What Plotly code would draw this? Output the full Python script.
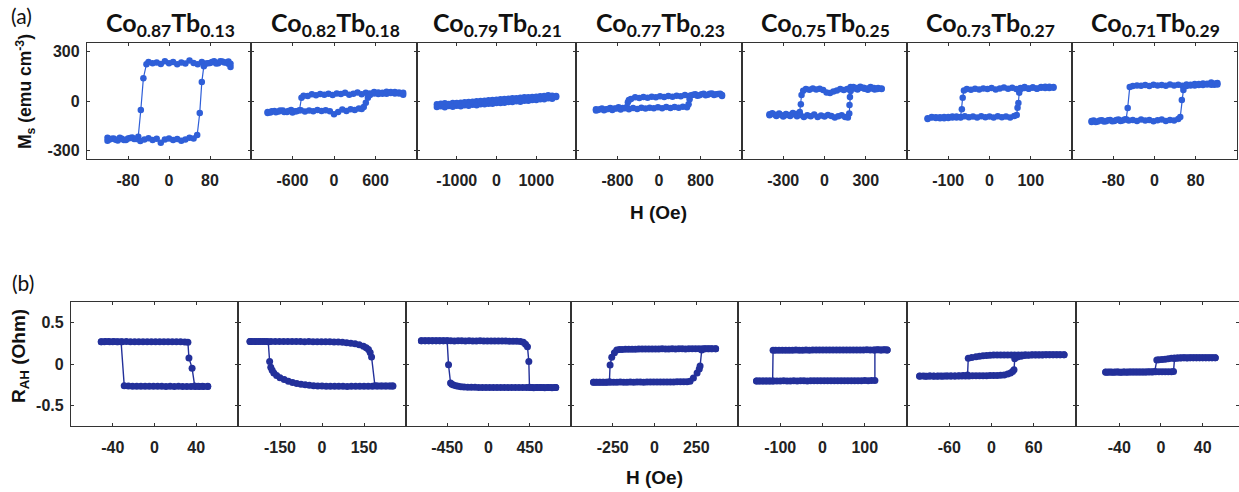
import plotly.graph_objects as go

# ---------------- data ----------------
titles = ["Co<sub>0.87</sub>Tb<sub>0.13</sub>", "Co<sub>0.82</sub>Tb<sub>0.18</sub>",
          "Co<sub>0.79</sub>Tb<sub>0.21</sub>", "Co<sub>0.77</sub>Tb<sub>0.23</sub>",
          "Co<sub>0.75</sub>Tb<sub>0.25</sub>", "Co<sub>0.73</sub>Tb<sub>0.27</sub>",
          "Co<sub>0.71</sub>Tb<sub>0.29</sub>"]
top_ticks = [80, 600, 1000, 800, 300, 100, 80]      # H (Oe) tick for (a) panels
bot_ticks = [40, 150, 450, 250, 100, 60, 40]        # H (Oe) tick for (b) panels
ms_ticks = [-300, 0, 300]
rah_ticks = [-0.5, 0, 0.5]

# (a) Ms loops: (H [Oe], Ms [emu/cm3]); sweep down then sweep up
a1_down = [(120,205),(116,225),(112,232),(104,238),(96,228),(88,240),(80,230),(72,226),(64,236),(56,222),(48,230),(40,244),(32,226),(24,232),(16,222),(8,236),(0,228),(-8,240),(-16,224),(-24,232),(-32,228),(-40,235),(-44,222),(-50,138),(-55,-54),(-60,-215),(-68,-230),(-76,-224),(-84,-236),(-92,-228),(-100,-238),(-108,-226),(-116,-232),(-120,-222)]
a1_up = [(-120,-240),(-112,-228),(-104,-234),(-96,-222),(-88,-236),(-80,-226),(-72,-220),(-64,-230),(-56,-242),(-48,-232),(-40,-225),(-32,-236),(-24,-228),(-16,-252),(-8,-232),(0,-226),(8,-236),(16,-230),(24,-240),(32,-232),(40,-222),(48,-226),(55,-205),(60,-72),(64,114),(68,210),(76,228),(84,236),(92,226),(100,240),(108,232),(116,238),(120,225)]

a2_down = [(1000,38),(940,52),(880,46),(820,55),(760,44),(700,50),(640,42),(580,55),(520,46),(460,50),(400,40),(340,52),(280,44),(220,38),(160,50),(100,42),(40,46),(-20,36),(-80,44),(-140,38),(-200,42),(-260,34),(-320,40),(-380,30),(-440,32),(-470,20),(-500,-56),(-560,-62),(-620,-54),(-680,-66),(-740,-58),(-800,-64),(-860,-60),(-920,-70),(-960,-66)]
a2_up = [(-960,-72),(-900,-62),(-840,-68),(-780,-58),(-720,-66),(-660,-60),(-600,-70),(-540,-62),(-480,-56),(-420,-64),(-360,-58),(-300,-62),(-240,-54),(-180,-60),(-120,-56),(-60,-62),(0,-80),(60,-66),(120,-52),(180,-60),(240,-50),(300,-54),(360,-46),(400,-48),(430,-36),(460,-10),(490,20),(520,36),(580,46),(640,52),(700,44),(760,56),(820,48),(880,54),(940,46),(1000,50)]

a3_down = [(1500,30),(1400,14),(1300,34),(1200,10),(1100,28),(1000,6),(900,24),(800,2),(700,22),(600,-4),(500,16),(400,-6),(300,14),(200,-10),(100,10),(0,-12),(-100,6),(-200,-16),(-300,2),(-400,-20),(-500,-2),(-600,-22),(-700,-6),(-800,-26),(-900,-10),(-1000,-28),(-1100,-12),(-1200,-30),(-1300,-14),(-1400,-32),(-1500,-20)]
a3_up = [(-1500,-36),(-1400,-16),(-1300,-38),(-1200,-18),(-1100,-34),(-1000,-12),(-900,-32),(-800,-8),(-700,-28),(-600,-4),(-500,-26),(-400,0),(-300,-20),(-200,4),(-100,-16),(0,8),(100,-12),(200,12),(300,-6),(400,16),(500,-2),(600,20),(700,2),(800,22),(900,6),(1000,26),(1100,10),(1200,30),(1300,16),(1400,32),(1500,24)]

a4_down = [(1215,30),(1140,42),(1060,36),(980,44),(900,34),(820,40),(740,32),(660,38),(580,30),(500,36),(420,28),(340,32),(260,26),(180,30),(100,24),(20,28),(-60,22),(-140,26),(-220,20),(-300,24),(-380,18),(-460,22),(-540,12),(-580,6),(-600,-8),(-620,-36),(-700,-42),(-780,-38),(-860,-46),(-940,-42),(-1020,-50),(-1100,-46),(-1180,-54),(-1215,-50)]
a4_up = [(-1215,-58),(-1140,-50),(-1060,-56),(-980,-48),(-900,-54),(-820,-46),(-740,-52),(-660,-44),(-580,-50),(-500,-42),(-420,-48),(-340,-40),(-260,-46),(-180,-40),(-100,-44),(-20,-38),(60,-44),(140,-36),(220,-42),(300,-36),(380,-40),(460,-34),(540,-38),(570,-20),(590,10),(620,34),(700,40),(780,34),(860,44),(940,38),(1020,46),(1100,40),(1180,44),(1215,36)]

a5_down = [(415,72),(390,78),(365,70),(340,76),(315,68),(290,74),(265,80),(240,70),(215,76),(190,84),(165,72),(140,66),(115,72),(90,64),(65,58),(40,48),(15,52),(-10,66),(-35,74),(-60,70),(-85,76),(-110,68),(-135,72),(-155,62),(-167,36),(-172,-20),(-180,-66),(-205,-78),(-230,-72),(-255,-84),(-280,-78),(-305,-88),(-330,-76),(-355,-84),(-380,-74),(-400,-80)]
a5_up = [(-400,-86),(-375,-78),(-350,-90),(-325,-82),(-300,-94),(-275,-84),(-250,-90),(-225,-80),(-200,-92),(-175,-84),(-150,-96),(-125,-86),(-100,-92),(-75,-82),(-50,-96),(-25,-88),(0,-94),(25,-84),(50,-90),(75,-100),(100,-92),(125,-86),(150,-96),(170,-100),(180,-76),(182,-24),(185,24),(190,60),(210,84),(235,78),(260,86),(285,80),(310,76),(335,84),(360,78),(385,72),(415,76)]

a6_down = [(155,84),(145,78),(135,86),(125,80),(115,74),(105,82),(95,76),(85,84),(75,78),(65,72),(55,80),(45,74),(35,82),(25,76),(15,70),(5,78),(-5,72),(-15,76),(-25,70),(-35,74),(-45,68),(-55,72),(-62,64),(-65,20),(-67,-50),(-70,-96),(-80,-100),(-90,-94),(-100,-102),(-110,-96),(-120,-104),(-130,-98),(-140,-100),(-150,-108)]
a6_up = [(-150,-104),(-140,-96),(-130,-102),(-120,-98),(-110,-104),(-100,-96),(-90,-100),(-80,-94),(-70,-100),(-60,-92),(-50,-98),(-40,-94),(-30,-100),(-20,-92),(-10,-98),(0,-94),(10,-100),(20,-92),(30,-98),(40,-94),(50,-100),(60,-90),(66,-84),(68,-40),(70,-12),(72,50),(76,72),(85,78),(95,74),(105,82),(115,76),(125,84),(135,78),(145,86),(155,80)]

a7_down = [(122,108),(116,98),(110,112),(102,100),(94,106),(86,96),(78,102),(70,94),(62,100),(54,92),(46,98),(38,94),(30,100),(22,92),(14,96),(6,94),(-2,98),(-10,90),(-18,96),(-26,92),(-34,94),(-42,90),(-48,84),(-52,-42),(-55,-110),(-62,-118),(-70,-112),(-78,-120),(-86,-114),(-94,-122),(-102,-116),(-110,-124),(-118,-118),(-122,-126)]
a7_up = [(-122,-120),(-114,-126),(-106,-118),(-98,-124),(-90,-116),(-82,-122),(-74,-114),(-66,-120),(-58,-112),(-50,-118),(-42,-114),(-34,-120),(-26,-112),(-18,-118),(-10,-114),(-2,-122),(6,-116),(14,-112),(22,-120),(30,-114),(38,-118),(46,-108),(50,-96),(53,6),(56,66),(62,90),(70,98),(78,94),(86,102),(94,96),(102,104),(110,98),(118,106),(122,100)]

# (b) anomalous Hall loops: (H [Oe], R_AH [Ohm]); sweep down then sweep up
b1_down = [(51,-0.272),(47,-0.271),(43,-0.272),(39,-0.271),(35,-0.272),(31,-0.271),(27,-0.271),(23,-0.270),(19,-0.271),(15,-0.270),(11,-0.271),(7,-0.270),(3,-0.270),(-1,-0.270),(-5,-0.269),(-9,-0.270),(-13,-0.269),(-17,-0.268),(-21,-0.268),(-25,-0.267),(-29,-0.262),(-32,0.268),(-36,0.270),(-40,0.270),(-44,0.271),(-48,0.270),(-51,0.270)]
b1_up = [(-51,0.270),(-47,0.271),(-43,0.270),(-39,0.271),(-35,0.270),(-31,0.270),(-27,0.271),(-23,0.270),(-19,0.270),(-15,0.269),(-11,0.270),(-7,0.270),(-3,0.269),(1,0.270),(5,0.269),(9,0.270),(13,0.269),(17,0.269),(21,0.268),(25,0.268),(29,0.267),(32,0.262),(33,0.073),(36,-0.050),(38.5,-0.265),(42,-0.268),(46,-0.270),(51,-0.270)]

b2_down = [(253,-0.265),(240,-0.266),(225,-0.267),(210,-0.266),(195,-0.267),(180,-0.268),(165,-0.268),(150,-0.269),(135,-0.270),(120,-0.270),(105,-0.270),(90,-0.271),(75,-0.270),(60,-0.270),(45,-0.270),(30,-0.269),(15,-0.268),(0,-0.267),(-15,-0.265),(-30,-0.262),(-45,-0.258),(-60,-0.252),(-75,-0.245),(-90,-0.236),(-105,-0.224),(-120,-0.208),(-135,-0.188),(-150,-0.165),(-162,-0.140),(-172,-0.110),(-178,-0.075),(-183,-0.040),(-187,0.030),(-192,0.270),(-205,0.272),(-220,0.271),(-235,0.272),(-250,0.271),(-257,0.272)]
b2_up = [(-257,0.272),(-242,0.273),(-227,0.271),(-212,0.272),(-197,0.273),(-182,0.272),(-167,0.271),(-152,0.272),(-137,0.272),(-122,0.271),(-107,0.272),(-92,0.271),(-77,0.272),(-62,0.270),(-47,0.271),(-32,0.270),(-17,0.270),(-2,0.270),(13,0.269),(28,0.268),(43,0.267),(58,0.265),(73,0.262),(88,0.258),(103,0.252),(118,0.244),(133,0.232),(148,0.215),(158,0.198),(166,0.175),(172,0.140),(177,0.085),(189,-0.262),(200,-0.265),(215,-0.266),(230,-0.265),(245,-0.266),(253,-0.265)]

b3_down = [(733,-0.285),(693,-0.286),(653,-0.285),(613,-0.286),(573,-0.285),(533,-0.285),(493,-0.286),(453,-0.285),(413,-0.285),(373,-0.284),(333,-0.285),(293,-0.285),(253,-0.284),(213,-0.285),(173,-0.284),(133,-0.284),(93,-0.285),(53,-0.284),(13,-0.283),(-27,-0.284),(-67,-0.283),(-107,-0.283),(-147,-0.282),(-187,-0.281),(-227,-0.280),(-267,-0.278),(-300,-0.275),(-330,-0.270),(-355,-0.264),(-382,-0.255),(-400,-0.245),(-414,-0.230),(-436,-0.010),(-451,0.280),(-492,0.280),(-532,0.281),(-572,0.280),(-612,0.281),(-652,0.280),(-692,0.281),(-732,0.280)]
b3_up = [(-732,0.280),(-692,0.281),(-652,0.280),(-612,0.281),(-572,0.280),(-532,0.280),(-492,0.281),(-452,0.280),(-412,0.280),(-372,0.279),(-332,0.280),(-292,0.280),(-252,0.279),(-212,0.280),(-172,0.279),(-132,0.279),(-92,0.280),(-52,0.279),(-12,0.278),(28,0.279),(68,0.278),(108,0.278),(148,0.277),(188,0.277),(228,0.276),(268,0.275),(308,0.274),(348,0.271),(380,0.262),(404,0.240),(425,0.210),(440,0.030),(447,-0.280),(480,-0.285),(520,-0.284),(560,-0.285),(600,-0.285),(640,-0.284),(680,-0.285),(720,-0.285),(733,-0.285)]

b4_down = [(366,0.183),(346,0.184),(326,0.183),(306,0.184),(286,0.183),(266,0.183),(246,0.184),(226,0.183),(206,0.183),(186,0.182),(166,0.183),(146,0.183),(126,0.182),(106,0.183),(86,0.182),(66,0.182),(46,0.183),(26,0.182),(6,0.181),(-14,0.182),(-34,0.181),(-54,0.181),(-74,0.180),(-94,0.180),(-114,0.179),(-134,0.179),(-154,0.178),(-174,0.177),(-194,0.176),(-210,0.174),(-226,0.168),(-240,0.135),(-256,0.082),(-266,-0.012),(-270,-0.215),(-290,-0.220),(-310,-0.221),(-330,-0.220),(-350,-0.221),(-365,-0.220)]
b4_up = [(-365,-0.221),(-345,-0.220),(-325,-0.221),(-305,-0.220),(-285,-0.220),(-265,-0.221),(-245,-0.220),(-225,-0.220),(-205,-0.219),(-185,-0.220),(-165,-0.220),(-145,-0.219),(-125,-0.220),(-105,-0.219),(-85,-0.219),(-65,-0.220),(-45,-0.219),(-25,-0.219),(-5,-0.218),(15,-0.219),(35,-0.218),(55,-0.218),(75,-0.218),(95,-0.217),(115,-0.217),(135,-0.216),(155,-0.216),(175,-0.215),(195,-0.214),(213,-0.208),(233,-0.170),(255,-0.110),(268,-0.060),(273,-0.025),(283,0.170),(300,0.183),(320,0.184),(340,0.183),(366,0.183)]

b5_down = [(153,0.170),(145,0.171),(137,0.170),(129,0.171),(121,0.170),(113,0.170),(105,0.171),(97,0.170),(89,0.170),(81,0.169),(73,0.170),(65,0.170),(57,0.169),(49,0.170),(41,0.169),(33,0.169),(25,0.170),(17,0.169),(9,0.168),(1,0.169),(-7,0.168),(-15,0.168),(-23,0.168),(-31,0.167),(-39,0.168),(-47,0.167),(-55,0.167),(-63,0.168),(-71,0.167),(-79,0.167),(-87,0.166),(-95,0.167),(-103,0.166),(-111,0.166),(-117,0.166),(-118,-0.205),(-126,-0.206),(-134,-0.205),(-142,-0.206),(-150,-0.205),(-156,-0.206)]
b5_up = [(-156,-0.206),(-148,-0.205),(-140,-0.206),(-132,-0.205),(-124,-0.205),(-116,-0.206),(-108,-0.205),(-100,-0.205),(-92,-0.204),(-84,-0.205),(-76,-0.205),(-68,-0.204),(-60,-0.205),(-52,-0.204),(-44,-0.204),(-36,-0.205),(-28,-0.204),(-20,-0.204),(-12,-0.203),(-4,-0.204),(4,-0.203),(12,-0.203),(20,-0.204),(28,-0.203),(36,-0.203),(44,-0.202),(52,-0.203),(60,-0.202),(68,-0.202),(76,-0.203),(84,-0.202),(92,-0.202),(100,-0.201),(108,-0.202),(116,-0.201),(124,-0.201),(124,0.170),(132,0.171),(140,0.170),(148,0.171),(153,0.170)]

b6_down = [(103,0.112),(98,0.111),(93,0.112),(88,0.111),(83,0.112),(78,0.111),(73,0.111),(68,0.112),(63,0.111),(58,0.111),(53,0.110),(48,0.111),(43,0.110),(38,0.110),(33,0.110),(28,0.110),(23,0.109),(18,0.109),(13,0.109),(8,0.108),(3,0.108),(-2,0.106),(-7,0.104),(-12,0.100),(-17,0.094),(-22,0.087),(-28,0.078),(-33,0.070),(-34,-0.134),(-40,-0.140),(-46,-0.143),(-52,-0.145),(-58,-0.146),(-64,-0.146),(-70,-0.147),(-76,-0.146),(-82,-0.147),(-88,-0.146),(-94,-0.147),(-102,-0.146)]
b6_up = [(-102,-0.147),(-97,-0.146),(-92,-0.147),(-87,-0.146),(-82,-0.146),(-77,-0.147),(-72,-0.146),(-67,-0.146),(-62,-0.145),(-57,-0.146),(-52,-0.145),(-47,-0.145),(-42,-0.145),(-37,-0.144),(-32,-0.144),(-27,-0.143),(-22,-0.143),(-17,-0.142),(-12,-0.142),(-7,-0.141),(-2,-0.140),(3,-0.139),(8,-0.138),(13,-0.136),(18,-0.132),(23,-0.122),(27,-0.108),(30,-0.090),(32,-0.070),(33,0.065),(37,0.085),(42,0.095),(47,0.102),(52,0.106),(57,0.108),(62,0.109),(67,0.110),(72,0.110),(77,0.111),(82,0.111),(87,0.112),(92,0.111),(97,0.112),(103,0.111)]

b7_down = [(52,0.075),(49,0.076),(46,0.075),(43,0.076),(40,0.075),(37,0.075),(34,0.076),(31,0.075),(28,0.075),(25,0.074),(22,0.075),(19,0.074),(16,0.073),(13,0.072),(10,0.069),(7,0.064),(4,0.058),(1,0.054),(-2,0.050),(-4,0.048),(-6,-0.090),(-9,-0.093),(-12,-0.095),(-15,-0.096),(-18,-0.097),(-21,-0.098),(-24,-0.097),(-27,-0.098),(-30,-0.098),(-33,-0.099),(-36,-0.098),(-39,-0.099),(-42,-0.098),(-45,-0.099),(-48,-0.098),(-51,-0.099),(-53,-0.098)]
b7_up = [(-53,-0.099),(-50,-0.098),(-47,-0.099),(-44,-0.098),(-41,-0.098),(-38,-0.099),(-35,-0.098),(-32,-0.098),(-29,-0.097),(-26,-0.098),(-23,-0.097),(-20,-0.097),(-17,-0.097),(-14,-0.096),(-11,-0.096),(-8,-0.096),(-5,-0.095),(-2,-0.095),(1,-0.094),(4,-0.094),(7,-0.093),(10,-0.093),(12,-0.092),(13,0.068),(16,0.074),(19,0.075),(22,0.075),(25,0.076),(28,0.075),(31,0.075),(34,0.076),(37,0.075),(40,0.076),(43,0.075),(46,0.076),(49,0.075),(52,0.075)]

loops_a = [(a1_down, a1_up), (a2_down, a2_up), (a3_down, a3_up), (a4_down, a4_up),
           (a5_down, a5_up), (a6_down, a6_up), (a7_down, a7_up)]
loops_b = [(b1_down, b1_up), (b2_down, b2_up), (b3_down, b3_up), (b4_down, b4_up),
           (b5_down, b5_up), (b6_down, b6_up), (b7_down, b7_up)]

# ---------------- layout (pixels) ----------------
W, H = 1239, 492
TOP_EDGES = [87, 251, 417, 576, 742, 907, 1072, 1237]
TOP_Y = (43, 159)
BOT_EDGES = [71, 238, 406, 571, 738, 907, 1076, 1239]
BOT_Y = (302, 426)
BOT_LAST_RANGE = (-81.5, 74.8)

COL_A = "#2f5fd8"
COL_B = "#23309a"
FRAME = "#333333"
TICK_FONT = dict(family="Liberation Sans, Arial", size=16, color="#222", weight="bold")


def px_x(p):
    return p / W


def px_y(p):
    return 1 - p / H


def lab(v):
    return "%g" % v


fig = go.Figure()

rows = [
    (loops_a, top_ticks, TOP_EDGES, TOP_Y, ms_ticks, (-350, 350), COL_A, 0, 6.5, 1.2),
    (loops_b, bot_ticks, BOT_EDGES, BOT_Y, rah_ticks, (-0.75, 0.75), COL_B, 7, 7, 1.4),
]

for loops, ticks, edges, ys, yt, yr, col, off, msize, lw in rows:
    for i, (down, up) in enumerate(loops):
        n = off + i + 1
        pts = down + up
        xs = [p[0] for p in pts]
        vs = [p[1] for p in pts]
        xa = "x" if n == 1 else "x%d" % n
        ya = "y" if n == 1 else "y%d" % n
        fig.add_trace(go.Scatter(
            x=xs, y=vs, xaxis=xa, yaxis=ya, mode="lines+markers",
            line=dict(color=col, width=lw),
            marker=dict(color=col, size=msize),
            hoverinfo="skip", showlegend=False))
        t = ticks[i]
        if off == 7 and i == 6:
            xr = list(BOT_LAST_RANGE)
        else:
            xr = [-2 * t, 2 * t]
        common = dict(ticks="inside", ticklen=3, tickwidth=1, tickcolor=FRAME,
                      showline=True, linecolor=FRAME, linewidth=1.3, mirror="ticks",
                      showgrid=False, zeroline=False, tickfont=TICK_FONT, fixedrange=True)
        fig.layout["xaxis" if n == 1 else "xaxis%d" % n] = dict(
            domain=[px_x(edges[i]), px_x(edges[i + 1])], range=xr,
            tickvals=[-t, 0, t], ticktext=[lab(-t), "0", lab(t)],
            anchor=ya, ticklabelstandoff=7, **common)
        fig.layout["yaxis" if n == 1 else "yaxis%d" % n] = dict(
            domain=[px_y(ys[1]), px_y(ys[0])], range=list(yr),
            tickvals=yt, ticktext=[lab(v) for v in yt],
            showticklabels=(i == 0), anchor=xa, ticklabelstandoff=3, **common)

ann = []
for i, ttl in enumerate(titles):
    cx = (TOP_EDGES[i] + TOP_EDGES[i + 1]) / 2 + 1
    ann.append(dict(text="<b>" + ttl + "</b>", x=px_x(cx), y=px_y(24), xref="paper", yref="paper",
                    xanchor="center", yanchor="middle", showarrow=False,
                    font=dict(family="Lato, Open Sans", size=25, color="#111")))
ann.append(dict(text="(a)", x=px_x(21), y=px_y(16), xref="paper", yref="paper",
                xanchor="center", yanchor="middle", showarrow=False,
                font=dict(family="Lato, Open Sans", size=21, color="#111")))
ann.append(dict(text="(b)", x=px_x(23), y=px_y(282), xref="paper", yref="paper",
                xanchor="center", yanchor="middle", showarrow=False,
                font=dict(family="Lato, Open Sans", size=21, color="#111")))
ann.append(dict(text="<b>H (Oe)</b>", x=px_x(658), y=px_y(213), xref="paper", yref="paper",
                xanchor="center", yanchor="middle", showarrow=False,
                font=dict(family="Liberation Sans, Arial", size=19, color="#111")))
ann.append(dict(text="<b>H (Oe)</b>", x=px_x(654), y=px_y(477), xref="paper", yref="paper",
                xanchor="center", yanchor="middle", showarrow=False,
                font=dict(family="Liberation Sans, Arial", size=19, color="#111")))
ann.append(dict(text="<b>M<sub>s</sub> (emu cm<sup>-3</sup>)</b>", x=px_x(25), y=px_y(92),
                xref="paper", yref="paper", xanchor="center", yanchor="middle",
                textangle=-90, showarrow=False,
                font=dict(family="Liberation Sans, Arial", size=17.5, color="#111")))
ann.append(dict(text="<b>R<sub>AH</sub> (Ohm)</b>", x=px_x(20), y=px_y(356),
                xref="paper", yref="paper", xanchor="center", yanchor="middle",
                textangle=-90, showarrow=False,
                font=dict(family="Liberation Sans, Arial", size=19, color="#111")))

fig.update_layout(width=W, height=H, margin=dict(l=0, r=0, t=0, b=0),
                  paper_bgcolor="white", plot_bgcolor="white", showlegend=False,
                  annotations=ann)

fig.write_html("out.html", config={"displayModeBar": False},
               post_script="document.body.style.margin='0';")
